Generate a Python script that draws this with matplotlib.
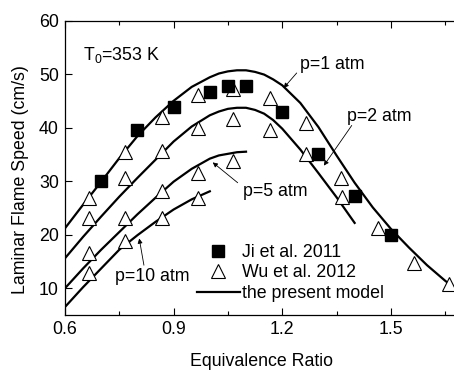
import matplotlib
matplotlib.use("Agg")
import matplotlib.pyplot as plt
from matplotlib.ticker import MultipleLocator

plt.rcParams['font.family'] = ['Liberation Sans', 'DejaVu Sans']
plt.rcParams['mathtext.default'] = 'regular'
FS = 12.8

# Ji et al. 2011 (p = 1 atm)
ji_phi = [0.7, 0.8, 0.9, 1.0, 1.05, 1.1, 1.2, 1.3, 1.4, 1.5]
ji_su = [30.1, 39.6, 43.9, 46.7, 47.8, 47.8, 43.0, 35.1, 27.3, 19.9]

# Wu et al. 2012, one list per pressure
wu_phi_1 = [0.667, 0.767, 0.867, 0.967, 1.065, 1.165, 1.265, 1.362, 1.465, 1.565, 1.662]
wu_su_1 = [26.9, 35.5, 41.9, 46.1, 47.3, 45.6, 40.8, 30.5, 21.3, 14.8, 10.7]
wu_phi_2 = [0.667, 0.767, 0.867, 0.967, 1.065, 1.165, 1.265, 1.365]
wu_su_2 = [23.2, 30.5, 35.6, 40.0, 41.6, 39.5, 35.1, 27.0]
wu_phi_5 = [0.667, 0.767, 0.867, 0.967, 1.065]
wu_su_5 = [16.6, 23.1, 28.1, 31.6, 33.7]
wu_phi_10 = [0.667, 0.767, 0.867, 0.967]
wu_su_10 = [12.8, 18.9, 23.2, 26.8]

# present model curves
m_phi_1 = [0.6, 0.65, 0.7, 0.75, 0.8, 0.85, 0.9, 0.95, 1.0, 1.025, 1.05, 1.075, 1.1,
           1.125, 1.15, 1.175, 1.2, 1.25, 1.3, 1.35, 1.4, 1.45, 1.5, 1.55, 1.6, 1.65, 1.68]
m_su_1 = [21.2, 25.6, 29.9, 34.3, 38.4, 41.9, 45.0, 47.6, 49.4, 50.1, 50.5, 50.7, 50.7,
          50.4, 49.9, 49.0, 47.9, 44.6, 40.1, 34.8, 29.7, 25.1, 21.1, 17.6, 14.3, 11.4, 9.8]
m_phi_2 = [0.6, 0.65, 0.7, 0.75, 0.8, 0.85, 0.9, 0.95, 1.0, 1.025, 1.05, 1.075, 1.1,
           1.125, 1.15, 1.175, 1.2, 1.25, 1.3, 1.35, 1.4]
m_su_2 = [15.6, 19.6, 23.4, 27.1, 30.6, 34.0, 37.4, 40.2, 42.3, 43.0, 43.5, 43.7, 43.7,
          43.3, 42.6, 41.4, 39.8, 35.9, 31.5, 27.0, 22.2]
m_phi_5 = [0.6, 0.65, 0.7, 0.75, 0.8, 0.85, 0.9, 0.95, 1.0, 1.025, 1.05, 1.075, 1.1]
m_su_5 = [10.0, 13.7, 17.2, 20.5, 23.8, 26.9, 29.9, 32.3, 34.2, 34.8, 35.1, 35.4, 35.5]
m_phi_10 = [0.6, 0.65, 0.7, 0.75, 0.8, 0.85, 0.9, 0.95, 1.0]
m_su_10 = [6.5, 10.2, 13.7, 17.2, 19.9, 22.4, 24.7, 26.6, 28.1]

fig = plt.figure(figsize=(4.54, 3.70), dpi=100)
ax = fig.add_axes([65 / 454, 55 / 370, 391 / 454, 294.5 / 370])

line_kw = dict(color='k', lw=1.6)
ax.plot(m_phi_1, m_su_1, label='the present model', **line_kw)
ax.plot(m_phi_2, m_su_2, **line_kw)
ax.plot(m_phi_5, m_su_5, **line_kw)
ax.plot(m_phi_10, m_su_10, **line_kw)

tri_kw = dict(ls='none', marker='^', ms=10, mfc='white', mec='k', mew=0.8)
ax.plot(wu_phi_1, wu_su_1, label='Wu et al. 2012', **tri_kw)
ax.plot(wu_phi_2, wu_su_2, **tri_kw)
ax.plot(wu_phi_5, wu_su_5, **tri_kw)
ax.plot(wu_phi_10, wu_su_10, **tri_kw)

ax.plot(ji_phi, ji_su, ls='none', marker='s', ms=8, mfc='k', mec='k',
        label='Ji et al. 2011')

ax.set_xlim(0.6, 1.68)
ax.set_ylim(5, 60)
ax.xaxis.set_major_locator(MultipleLocator(0.3))
ax.xaxis.set_minor_locator(MultipleLocator(0.15))
ax.yaxis.set_major_locator(MultipleLocator(10))
ax.set_xticklabels([], minor=True)
ax.xaxis.set_major_formatter(plt.FuncFormatter(lambda v, p: f'{v:.1f}'))
ax.tick_params(which='both', direction='in', top=True, right=False, labelsize=FS, width=0.8)
ax.tick_params(which='major', length=5, pad=4.5)
ax.tick_params(which='minor', length=3)
for s in ax.spines.values():
    s.set_linewidth(0.9)

fig.text(21 / 454, 1 - 180 / 370, 'Laminar Flame Speed (cm/s)', rotation=90,
         ha='center', va='center', fontsize=FS)
fig.text(262 / 454, 1 - 366 / 370, 'Equivalence Ratio', ha='center', va='baseline',
         fontsize=FS)

ax.text(0.65, 52.6, 'T$_0$=353 K', fontsize=FS, ha='left', va='baseline')

labels = [('p=1 atm', (1.249, 51.0), (1.240, 50.2), (1.204, 47.4)),
          ('p=2 atm', (1.378, 41.3), (1.392, 40.4), (1.315, 32.9)),
          ('p=5 atm', (1.091, 27.3), (1.077, 29.7), (1.008, 33.5)),
          ('p=10 atm', (0.738, 11.4), (0.818, 14.3), (0.805, 19.3))]
for txt, pos, tail, head in labels:
    ax.text(pos[0], pos[1], txt, fontsize=FS, ha='left', va='baseline')
    ax.annotate('', xy=head, xytext=tail,
                arrowprops=dict(arrowstyle='-|>', lw=0.6, color='k',
                                mutation_scale=7, shrinkA=0, shrinkB=0))

h, l = ax.get_legend_handles_labels()
order = [2, 1, 0]
ax.legend([h[i] for i in order], [l[i] for i in order], loc='upper left',
          bbox_to_anchor=(0.3376, 0.242), frameon=False, fontsize=FS,
          handlelength=2.4, handletextpad=0.15, labelspacing=0.2,
          borderpad=0, borderaxespad=0, numpoints=1)

fig.savefig('out.png', dpi=100)
